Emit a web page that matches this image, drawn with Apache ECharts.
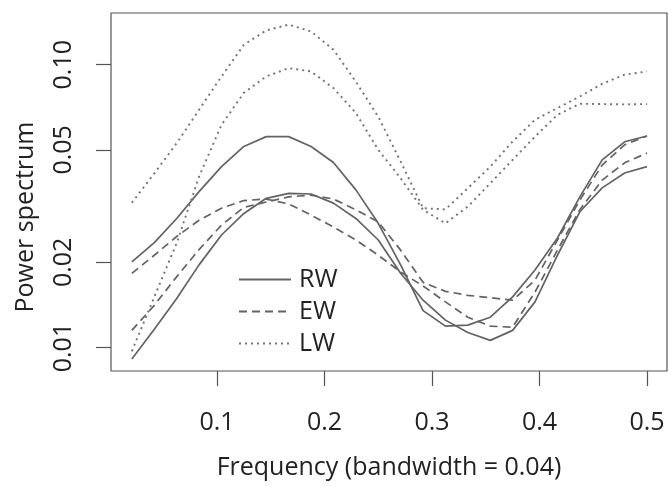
<!DOCTYPE html>
<html>
<head>
<meta charset="utf-8">
<script src="https://cdn.jsdelivr.net/npm/echarts@6/dist/echarts.min.js"></script>
<style>
html, body { margin: 0; padding: 0; background: #fff; }
#main { width: 669px; height: 486px; }
</style>
</head>
<body>
<div id="main"></div>
<script>
// frequencies (cycles per year)
var freq = [0.0208, 0.0417, 0.0625, 0.0833, 0.1042, 0.125, 0.1458, 0.1667, 0.1875, 0.2083, 0.2292, 0.25,
            0.2708, 0.2917, 0.3125, 0.3333, 0.3542, 0.375, 0.3958, 0.4167, 0.4375, 0.4583, 0.4792, 0.5];

// ring width
var rwA = [0.0201, 0.0235, 0.0286, 0.0356, 0.0436, 0.0514, 0.0557, 0.0557, 0.0514, 0.0451, 0.0361, 0.0275,
           0.0196, 0.0135, 0.0119, 0.0120, 0.0128, 0.0151, 0.0188, 0.0244, 0.0341, 0.0461, 0.0534, 0.0560];
var rwB = [0.0091, 0.0116, 0.0149, 0.0196, 0.0250, 0.0298, 0.0337, 0.0351, 0.0349, 0.0324, 0.0286, 0.0240,
           0.0183, 0.0147, 0.0125, 0.0113, 0.0106, 0.0115, 0.0145, 0.0212, 0.0302, 0.0367, 0.0414, 0.0436];
// earlywood
var ewA = [0.0183, 0.0212, 0.0247, 0.0282, 0.0311, 0.0331, 0.0335, 0.0322, 0.0294, 0.0267, 0.0240, 0.0212,
           0.0185, 0.0165, 0.0145, 0.0128, 0.0119, 0.0118, 0.0157, 0.0221, 0.0307, 0.0391, 0.0450, 0.0487];
var ewB = [0.0115, 0.0141, 0.0178, 0.0222, 0.0271, 0.0313, 0.0327, 0.0341, 0.0346, 0.0335, 0.0307, 0.0278,
           0.0221, 0.0170, 0.0158, 0.0153, 0.0150, 0.0147, 0.0173, 0.0240, 0.0332, 0.0442, 0.0521, 0.0560];
// latewood
var lwA = [0.0325, 0.0413, 0.0528, 0.0693, 0.0909, 0.1177, 0.1323, 0.1386, 0.1312, 0.1130, 0.0871, 0.0655,
           0.0455, 0.0311, 0.0308, 0.0366, 0.0436, 0.0535, 0.0639, 0.0703, 0.0772, 0.0856, 0.0922, 0.0947];
var lwB = [0.0097, 0.0151, 0.0234, 0.0402, 0.0613, 0.0796, 0.0909, 0.0973, 0.0947, 0.0827, 0.0675, 0.0500,
           0.0397, 0.0307, 0.0275, 0.0315, 0.0381, 0.0461, 0.0557, 0.0665, 0.0728, 0.0726, 0.0724, 0.0726];

var xTicks = [0.1, 0.2, 0.3, 0.4, 0.5];
var yTicks = [0.01, 0.02, 0.05, 0.1];
var yTickLabels = ['0.01', '0.02', '0.05', '0.10'];

var FONT = 'Open Sans';
var FS = 25;
var GREY = '#636363';

function pairs(ys) {
	var out = [];
	for (var i = 0; i < freq.length; i++) {
		out.push([freq[i], ys[i]]);
	}
	return out;
}

function line(name, ys, type, width, color) {
	return {
		name: name,
		type: 'line',
		data: pairs(ys),
		symbol: 'none',
		silent: true,
		lineStyle: { color: color, width: width, type: type },
		itemStyle: { color: color }
	};
}

var myChart = echarts.init(document.getElementById('main'));

var option = {
	animation: false,
	backgroundColor: '#fff',
	grid: {
		left: 111, right: 2, top: 13, bottom: 115,
		show: true, borderColor: '#555', borderWidth: 1.2
	},
	legend: {
		data: ['RW', 'EW', 'LW'],
		orient: 'vertical',
		left: 233, top: 262,
		itemWidth: 52, itemHeight: 20, itemGap: 7,
		selectedMode: false,
		// hide the symbol in the middle of the legend line
		itemStyle: { color: 'rgba(0,0,0,0)', borderColor: 'rgba(0,0,0,0)', borderWidth: 0, opacity: 0 },
		textStyle: { fontFamily: FONT, fontSize: FS, lineHeight: 20, color: '#222', padding: [0, 0, 0, 3] }
	},
	xAxis: {
		type: 'value',
		min: 0.0014, max: 0.5186,
		axisLine: { show: false },
		splitLine: { show: false },
		axisTick: { show: true, inside: false, length: 15, customValues: xTicks, lineStyle: { color: '#555', width: 1.2 } },
		axisLabel: { customValues: xTicks, margin: 39, fontFamily: FONT, fontSize: FS, color: '#222' },
		name: 'Frequency (bandwidth = 0.04)',
		nameLocation: 'middle', nameGap: 84,
		nameTextStyle: { fontFamily: FONT, fontSize: FS, color: '#222' }
	},
	yAxis: {
		type: 'log', logBase: 10,
		min: 0.00826, max: 0.1524,
		axisLine: { show: false },
		splitLine: { show: false },
		axisTick: { show: true, inside: false, length: 15, customValues: yTicks, lineStyle: { color: '#555', width: 1.2 } },
		axisLabel: {
			customValues: yTicks, rotate: 90, margin: 35,
			fontFamily: FONT, fontSize: FS, color: '#222',
			formatter: function(v) {
				var best = 0;
				for (var i = 1; i < yTicks.length; i++) {
					if (Math.abs(Math.log(v / yTicks[i])) < Math.abs(Math.log(v / yTicks[best]))) best = i;
				}
				return yTickLabels[best];
			}
		},
		name: 'Power spectrum',
		nameLocation: 'middle', nameGap: 73, nameRotate: 90,
		nameTextStyle: { fontFamily: FONT, fontSize: FS, color: '#222', padding: [0, 50, 0, 0] }
	},
	series: [
		line('RW', rwA, 'solid', 1.7, GREY),
		line('RW', rwB, 'solid', 1.7, GREY),
		line('EW', ewA, [8, 5], 1.7, GREY),
		line('EW', ewB, [8, 5], 1.7, GREY),
		line('LW', lwA, [2, 4], 1.9, '#737373'),
		line('LW', lwB, [2, 4], 1.9, '#737373')
	]
};

myChart.setOption(option);
</script>
</body>
</html>
